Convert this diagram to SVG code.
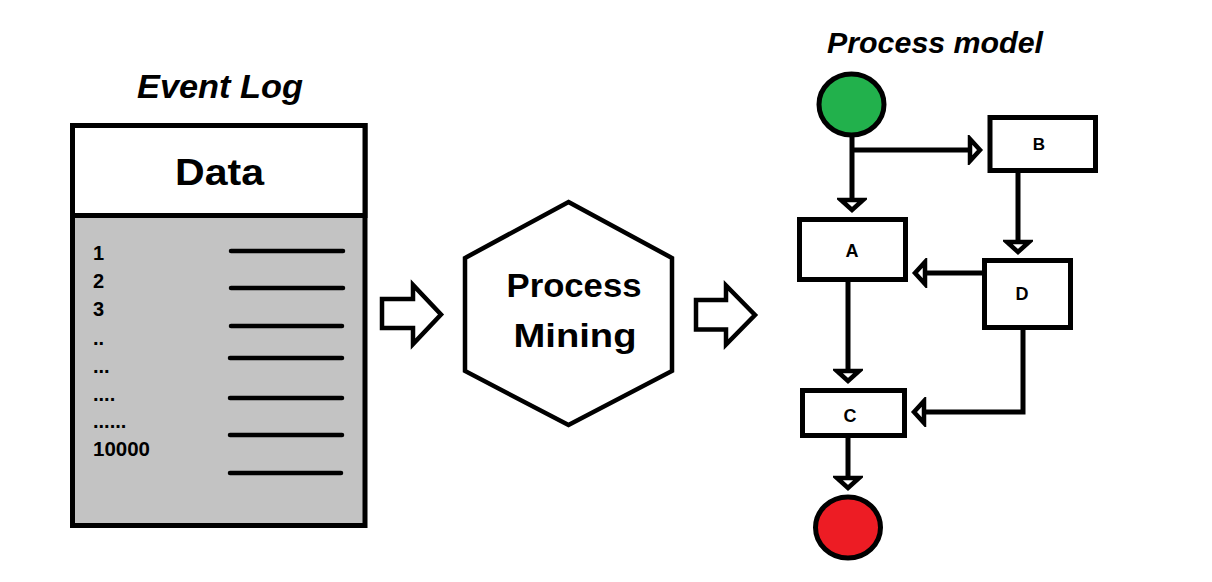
<svg xmlns="http://www.w3.org/2000/svg" width="1212" height="582" viewBox="0 0 1212 582">
<style>
.t{font-family:"Liberation Sans",Arial,sans-serif;font-weight:bold;fill:#000}
.ti{font-family:"Liberation Sans",Arial,sans-serif;font-weight:bold;font-style:italic;fill:#000}
.box{fill:#fff;stroke:#000;stroke-width:5}
.ln{fill:none;stroke:#000;stroke-width:5}
.row{stroke:#000;stroke-width:4.5;stroke-linecap:round}
.blk{fill:#fff;stroke:#000;stroke-width:4.5;stroke-linejoin:miter}
</style>
<defs>
<marker id="ah" markerUnits="userSpaceOnUse" viewBox="-4 -15 18 30" markerWidth="18" markerHeight="30" refX="10" refY="0" orient="auto">
<path d="M0,-11 L10,0 L0,11 Z" fill="#fff" stroke="#000" stroke-width="4.5"/>
</marker>
</defs>
<rect width="1212" height="582" fill="#fff"/>

<g id="event-log">
<text class="ti" x="220" y="98" font-size="34" text-anchor="middle" textLength="166" lengthAdjust="spacingAndGlyphs">Event Log</text>
<rect x="72.5" y="125.5" width="292.5" height="400" fill="#c3c3c3" stroke="#000" stroke-width="5"/>
<rect x="72.5" y="125.5" width="292.5" height="90" fill="#fff" stroke="#000" stroke-width="5"/>
<text class="t" x="219.5" y="185" font-size="37" text-anchor="middle" textLength="89" lengthAdjust="spacingAndGlyphs">Data</text>
<g class="t" font-size="20">
<text x="93" y="260">1</text>
<text x="93" y="288">2</text>
<text x="93" y="316">3</text>
<text x="93" y="345">..</text>
<text x="93" y="373">...</text>
<text x="93" y="401">....</text>
<text x="93" y="428">......</text>
<text x="93" y="456" textLength="57" lengthAdjust="spacingAndGlyphs">10000</text>
</g>
<g class="row">
<line x1="231" y1="251" x2="343" y2="251"/>
<line x1="231" y1="288" x2="343" y2="288"/>
<line x1="231" y1="326" x2="342" y2="326"/>
<line x1="230" y1="358" x2="342" y2="358"/>
<line x1="230" y1="398" x2="342" y2="398"/>
<line x1="230" y1="435" x2="342" y2="435"/>
<line x1="230" y1="473" x2="341" y2="473"/>
</g>
</g>

<g id="arrow-in">
<polygon class="blk" points="382,299 413,299 413,285 441,314.5 413,344 413,328 382,328"/>
</g>

<g id="process-mining">
<polygon points="568.5,202 672,258 672,371 568.5,425 465,371 465,258" fill="#fff" stroke="#000" stroke-width="4.5"/>
<text class="t" x="574" y="297" font-size="34" text-anchor="middle" textLength="135" lengthAdjust="spacingAndGlyphs">Process</text>
<text class="t" x="575" y="347" font-size="34" text-anchor="middle" textLength="123" lengthAdjust="spacingAndGlyphs">Mining</text>
</g>

<g id="arrow-out">
<polygon class="blk" points="696,300 726,300 726,285.5 755,315 726,344.5 726,329.5 696,329.5"/>
</g>

<text class="ti" x="935" y="53" font-size="30" text-anchor="middle" textLength="216" lengthAdjust="spacingAndGlyphs">Process model</text>

<g id="connectors">
<path class="ln" d="M852,136 V210" marker-end="url(#ah)"/>
<path class="ln" d="M852,150 H980" marker-end="url(#ah)"/>
<path class="ln" d="M1018,172 V252" marker-end="url(#ah)"/>
<path class="ln" d="M983,273 H915" marker-end="url(#ah)"/>
<path class="ln" d="M848,281 V381" marker-end="url(#ah)"/>
<path class="ln" d="M1023,329 V412 H914" marker-end="url(#ah)"/>
<path class="ln" d="M848,437 V488" marker-end="url(#ah)"/>
</g>

<g id="start">
<ellipse cx="851.5" cy="104.5" rx="32.5" ry="30.5" fill="#22b14c" stroke="#000" stroke-width="5"/>
</g>
<g id="B">
<rect class="box" x="990" y="117.5" width="105.5" height="53"/>
<text class="t" x="1039" y="150" font-size="17" text-anchor="middle">B</text>
</g>
<g id="A">
<rect class="box" x="799.5" y="219.5" width="106" height="60"/>
<text class="t" x="852" y="257" font-size="18" text-anchor="middle">A</text>
</g>
<g id="D">
<rect class="box" x="984.5" y="260.5" width="86" height="67"/>
<text class="t" x="1022" y="300" font-size="18" text-anchor="middle">D</text>
</g>
<g id="C">
<rect class="box" x="802.5" y="390.5" width="102" height="45"/>
<text class="t" x="850" y="422" font-size="18" text-anchor="middle">C</text>
</g>
<g id="end">
<ellipse cx="848" cy="527.5" rx="32.5" ry="30.5" fill="#ed1c24" stroke="#000" stroke-width="5"/>
</g>
</svg>
